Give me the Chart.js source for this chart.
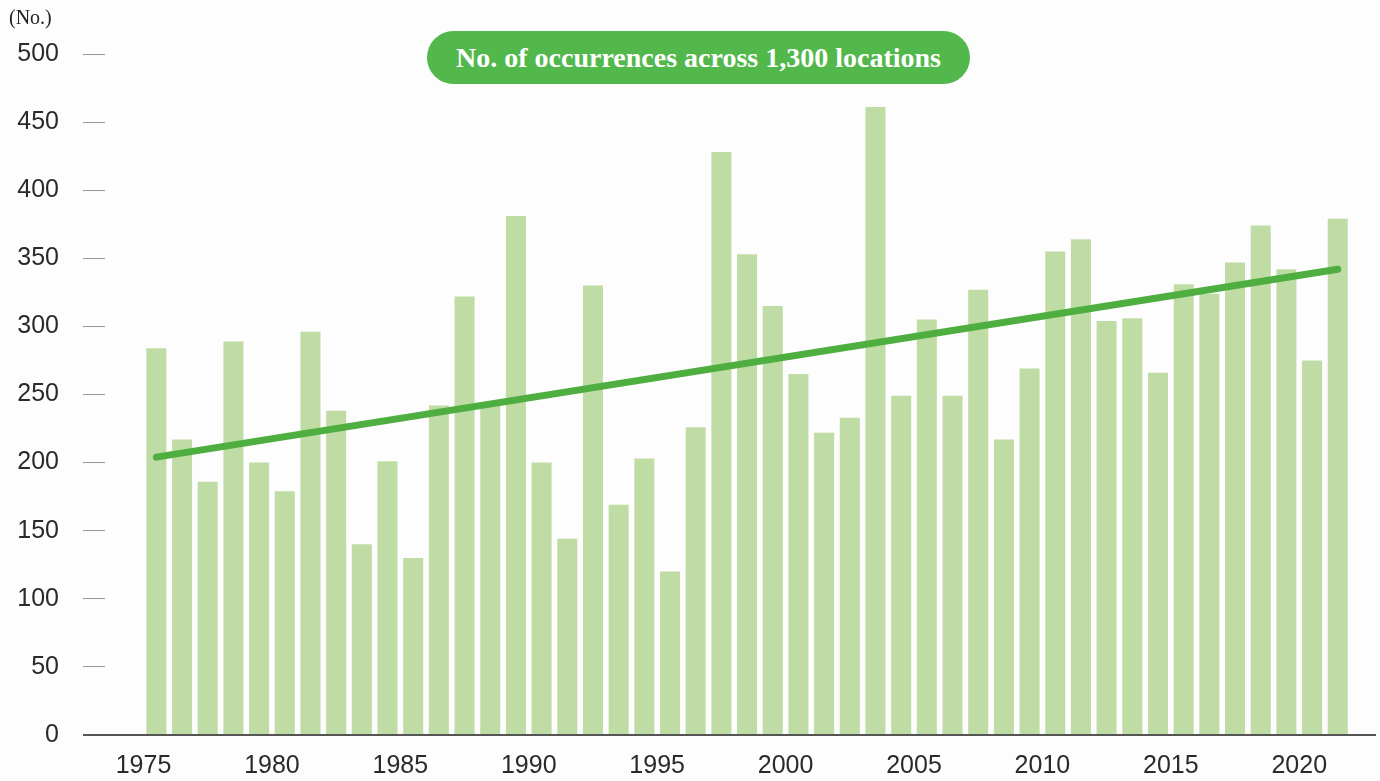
<!DOCTYPE html>
<html>
<head>
<meta charset="utf-8">
<script src="https://cdn.jsdelivr.net/npm/chart.js@4/dist/chart.umd.min.js"></script>
<style>
  html, body { margin: 0; padding: 0; background: #fdfdfd; }
  #wrap { position: relative; width: 1380px; height: 781px; }
  canvas { display: block; }
  #unit { position: absolute; left: 9px; top: 6px; font: 20px "Liberation Serif", serif; color: #222; }
  #badge {
    position: absolute; left: 427px; top: 31px; width: 543px; height: 53px;
    border-radius: 27px; background: #52b84b; color: #fff;
    font: bold 28px "Liberation Serif", serif; line-height: 53px; text-align: center;
  }
</style>
</head>
<body>
<div id="wrap">
  <canvas id="chart-canvas" width="1380" height="781"></canvas>
  <div id="unit">(No.)</div>
  <div id="badge">No. of occurrences across 1,300 locations</div>
</div>
<script>
const years = [];
for (let y = 1975; y <= 2021; y++) years.push(y);

const occurrences = [
  284, 217, 186, 289, 200, 179, 296, 238, 140, 201,
  130, 242, 322, 242, 381, 200, 144, 330, 169, 203,
  120, 226, 428, 353, 315, 265, 222, 233, 461, 249,
  305, 249, 327, 217, 269, 355, 364, 304, 306, 266,
  331, 324, 347, 374, 342, 275, 379
];

// linear trend drawn between first and last year
const trendYears = [1975, 2021];
const trendValues = [204, 342];

const yTicks = [0, 50, 100, 150, 200, 250, 300, 350, 400, 450, 500];

const tickFont = { family: '"Liberation Sans", Arial, sans-serif', size: 25 };
const ctx = document.getElementById('chart-canvas').getContext('2d');

new Chart(ctx, {
  type: 'bar',
  data: {
    datasets: [
      {
        type: 'line',
        data: trendYears.map((y, i) => ({ x: y + 0.5, y: trendValues[i] })),
        borderColor: '#4fae40',
        borderWidth: 7,
        borderCapStyle: 'round',
        pointRadius: 0,
        order: 0
      },
      {
        data: years.map((y, i) => ({ x: y + 0.5, y: occurrences[i] })),
        backgroundColor: '#c0dca5',
        categoryPercentage: 1,
        barPercentage: 0.78,
        order: 1
      }
    ]
  },
  options: {
    responsive: false,
    animation: false,
    layout: { padding: { top: 54, right: 5, bottom: 0, left: 0 } },
    plugins: { legend: { display: false }, tooltip: { enabled: false } },
    scales: {
      x: {
        type: 'linear',
        offset: false,
        min: 1973.5,
        max: 2022.95,
        grid: { drawOnChartArea: false, drawTicks: false },
        border: { color: '#555', width: 2 },
        afterBuildTicks: scale => {
          scale.ticks = scale.ticks.filter(t => t.value % 5 === 0);
        },
        afterFit: scale => { scale.height = 46; },
        ticks: {
          stepSize: 5,
          includeBounds: false,
          padding: 16,
          maxRotation: 0,
          color: '#2a2a2a',
          font: tickFont,
          callback: v => String(v)
        }
      },
      y: {
        min: 0,
        max: 500,
        afterBuildTicks: scale => {
          scale.ticks = yTicks.map(v => ({ value: v }));
        },
        afterFit: scale => { scale.width = 105; },
        grid: {
          drawOnChartArea: false,
          drawTicks: true,
          tickLength: 22,
          color: c => c.tick && c.tick.value === 0 ? '#555' : '#999',
          lineWidth: c => c.tick && c.tick.value === 0 ? 2 : 1
        },
        border: { display: false },
        ticks: {
          padding: 24,
          color: '#2a2a2a',
          font: tickFont
        }
      }
    }
  }
});
</script>
</body>
</html>
